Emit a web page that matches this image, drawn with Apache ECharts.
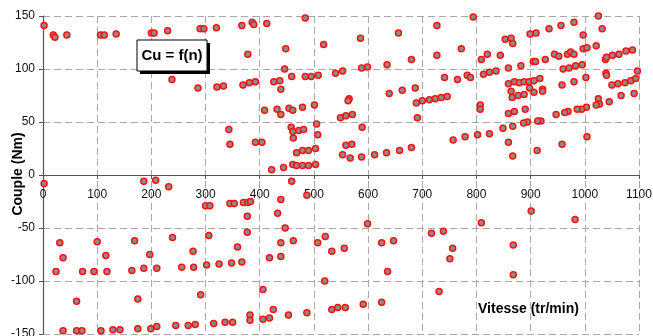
<!DOCTYPE html>
<html>
<head>
<meta charset="utf-8">
<script src="https://cdn.jsdelivr.net/npm/echarts@6/dist/echarts.min.js"></script>
<style>
  html, body { margin: 0; padding: 0; background: #fff; }
  #chart { width: 653px; height: 336px; }
</style>
</head>
<body>
<div id="chart"></div>
<script>
// vitesse (tr/min) and couple (Nm)
const speed = [
  2, 19, 22, 44, 106, 113, 135, 200, 205, 230, 238, 286, 290, 297, 320, 321,
  367, 386, 389, 413, 484, 518, 586, 656, 378, 448,
  333, 369, 381, 392, 426, 437, 439, 446, 459, 484, 495, 508, 540, 553, 588, 599, 635, 680,
  639, 663, 687, 689, 691, 565, 563, 549, 559, 571, 589,
  409, 432, 439, 454, 461, 479, 501, 343, 345, 392, 404, 458, 461, 462, 472, 481, 505, 507,
  559, 570, 553, 567, 588, 612, 634, 658, 680, 468, 479, 490, 503,
  461, 468, 479, 490, 503, 422, 444, 459, 487,
  727, 794, 727, 772, 853, 864, 867, 899, 910, 934, 956, 980, 1025, 1032,
  997, 1021, 997, 1004, 944, 952, 968, 974, 980,
  927, 905, 909, 882, 859, 836, 824, 813, 809, 820, 844, 960, 971, 983, 995,
  1038, 1040, 1051, 1063, 1076, 1088, 1097, 1039, 1040, 1050, 1061, 1074, 1085, 1094,
  1091, 1067, 1045, 1025, 1027, 1021, 1003, 994, 986, 1002, 980, 958,
  969, 963, 947, 919, 913, 894, 887, 867, 849, 824, 802, 779, 757,
  859, 867, 912, 958, 1004, 859, 870, 890, 807, 807,
  866, 877, 888, 898, 906, 922, 922, 864, 859, 870, 879, 888, 897, 906, 917,
  741, 765, 783, 789, 700, 713, 724, 735, 746,
  901, 982, 809, 717, 739, 756, 751, 868, 868, 731,
  2, 186, 208, 232, 300, 308,
  24, 31, 37, 62, 73, 94, 100, 116, 118, 164, 169, 175, 186, 197, 210, 239, 256, 277, 278,
  306, 302, 325, 291,
  37, 62, 72, 107, 129, 142, 175, 199, 210, 245, 268, 281, 315,
  345, 353, 370, 378, 383, 439, 433, 377, 377,
  447, 439, 462, 507, 521, 533, 556, 599, 625, 647, 636,
  359, 439, 418, 348, 367, 520, 406,
  336, 350, 382, 382, 406, 418, 425, 453, 487, 533, 544, 558, 591, 625
]
const torque = [
  141, 132, 130, 132, 132, 132, 133, 134, 134, 136, 90, 82, 138, 138, 139, 83,
  141, 144, 142, 143, 148, 123, 129, 134, 114, 119,
  84, 85, 87, 88, 88, 89, 81, 100, 93, 93, 93, 94, 96, 98, 101, 102, 104, 109,
  77, 80, 82, 68, 54, 72, 70, 54, 56, 57, 45,
  61, 62, 57, 63, 61, 64, 66, 43, 29, 31, 31, 45, 41, 35, 42, 43, 48, 38,
  28, 29, 19, 16, 17, 19, 21, 23, 26, 21, 23, 23, 25,
  10, 9, 9, 9, 10, 5, 7, -6, -19,
  141, 149, 113, 119, 128, 129, 124, 133, 134, 138, 141, 144, 150, 138,
  132, 122, 119, 120, 114, 112, 114, 116, 114,
  109, 107, 107, 103, 101, 98, 97, 95, 109, 114, 113, 100, 101, 103, 104,
  109, 111, 113, 114, 117, 118, 98, 96, 94, 85, 86, 87, 89, 91,
  77, 75, 69, 72, 67, 66, 64, 62, 62, 92, 88, 85,
  60, 59, 57, 51, 51, 50, 49, 46, 44, 39, 38, 36, 33,
  31, 18, 23, 29, 36, 58, 60, 62, 66, 62,
  73, 75, 76, 82, 78, 81, 79, 79, 86, 88, 87, 88, 88, 89, 91,
  92, 90, 94, 92, 70, 71, 72, 73, 74,
  -34, -42, -45, -55, -53, -69, -79, -66, -94, -110,
  -8, -6, -5, -11, -29, -29,
  -91, -64, -78, -119, -91, -91, -63, -76, -91, -90, -62, -117, -88, -75, -88, -59, -87, -72, -87,
  -57, -85, -84, -113,
  -147, -147, -147, -147, -146, -146, -145, -145, -143, -142, -142, -141, -140,
  -27, -27, -26, -26, -25, -23, -36, -39, -54,
  -50, -64, -62, -64, -58, -72, -69, -46, -64, -62, -91,
  -68, -77, -78, -83, -82, -100, -108,
  -139, -139, -132, -137, -136, -135, -127, -132, -130, -127, -125, -125, -122, -120
]

const titleText = 'Cu = f(n)'
const xName = 'Vitesse (tr/min)'
const yName = 'Couple (Nm)'

const points = speed.map(function (s, i) {
  return [s, torque[i]]
})

const myChart = echarts.init(document.getElementById('chart'))

const gridLine = {
  show: true,
  lineStyle: { color: '#a8a8a8', type: [7, 4], width: 1 },
}

// grid: top 16, bottom 2 -> plot height 318, zero sits 159px above the bottom edge
const option = {
  backgroundColor: '#fff',
  animation: false,
  grid: {
    left: 43,
    right: 14,
    top: 16,
    bottom: 2,
    containLabel: false,
    outerBoundsMode: 'none',
  },
  xAxis: {
    type: 'value',
    min: 0,
    max: 1100,
    interval: 100,
    position: 'bottom',
    offset: -159,
    axisLine: { onZero: false, lineStyle: { color: '#555', width: 1.2 } },
    axisTick: { show: true, length: 4, lineStyle: { color: '#555' } },
    axisLabel: {
      color: '#111',
      fontFamily: 'Liberation Sans',
      fontSize: 12,
      margin: 14,
      formatter: function (v) {
        return String(v)
      },
    },
    splitLine: gridLine,
  },
  yAxis: {
    type: 'value',
    min: -150,
    max: 150,
    interval: 50,
    axisLine: { show: true, onZero: false, lineStyle: { color: '#555', width: 1.2 } },
    axisTick: { show: true, length: 4, lineStyle: { color: '#555' } },
    axisLabel: {
      color: '#111',
      fontFamily: 'Liberation Sans',
      fontSize: 12,
      margin: 8,
      formatter: function (v) {
        return String(v)
      },
    },
    splitLine: gridLine,
  },
  graphic: [
    {
      type: 'text',
      left: 478,
      top: 302,
      z: 50,
      style: {
        text: xName,
        fill: '#000',
        font: 'bold 14px "Liberation Sans"',
      },
    },
    {
      type: 'text',
      x: 18,
      y: 174,
      rotation: Math.PI / 2,
      z: 50,
      style: {
        text: yName,
        fill: '#000',
        align: 'center',
        verticalAlign: 'middle',
        font: 'bold 14px "Liberation Sans"',
      },
    },
    {
      type: 'rect',
      shape: { x: 140, y: 43, width: 70, height: 31 },
      z: 60,
      style: { fill: '#000' },
    },
    {
      type: 'rect',
      shape: { x: 137, y: 40, width: 70, height: 31 },
      z: 61,
      style: { fill: '#fff', stroke: '#000', lineWidth: 1 },
    },
    {
      type: 'text',
      x: 172,
      y: 56,
      z: 62,
      style: {
        text: titleText,
        fill: '#000',
        align: 'center',
        verticalAlign: 'middle',
        font: 'bold 15px "Liberation Sans"',
      },
    },
  ],
  series: [
    {
      type: 'scatter',
      data: points,
      symbol: 'circle',
      symbolSize: 6,
      z: 10,
      itemStyle: {
        color: '#8c8c8c',
        borderColor: '#ff1010',
        borderWidth: 1.5,
        opacity: 1,
      },
    },
  ],
}
myChart.setOption(option)
</script>
</body>
</html>
